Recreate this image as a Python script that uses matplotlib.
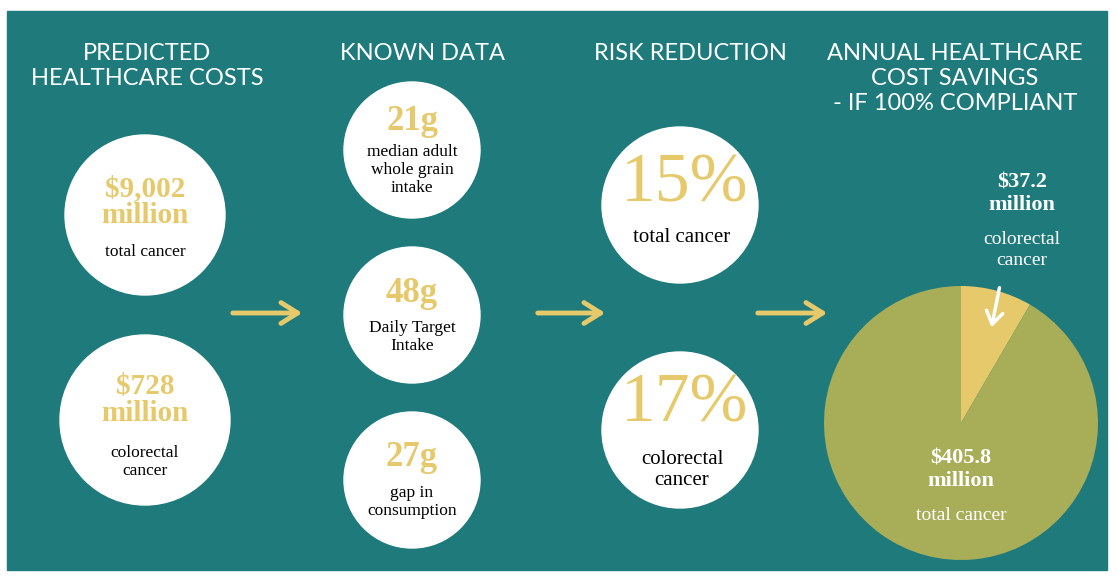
import matplotlib.pyplot as plt
from matplotlib.patches import Circle, Rectangle, FancyArrowPatch

TEAL = "#1F7A7C"
GOLD = "#E6C96B"
OLIVE = "#A8AD58"

headers = ["PREDICTED\nHEALTHCARE COSTS", "KNOWN DATA", "RISK REDUCTION",
           "ANNUAL HEALTHCARE\nCOST SAVINGS\n- IF 100% COMPLIANT"]
cost_values = ["$9,002\nmillion", "$728\nmillion"]
cost_labels = ["total cancer", "colorectal\ncancer"]
known_values = ["21g", "48g", "27g"]
known_labels = ["median adult\nwhole grain\nintake", "Daily Target\nIntake", "gap in\nconsumption"]
risk_values = ["15%", "17%"]
risk_labels = ["total cancer", "colorectal\ncancer"]
savings = [37.2, 405.8]
savings_labels = ["colorectal\ncancer", "total cancer"]

fig = plt.figure(figsize=(11.18, 5.81), dpi=100)
ax = fig.add_axes([0, 0, 1, 1])
ax.set_xlim(0, 1118)
ax.set_ylim(581, 0)
ax.set_aspect("equal")
ax.axis("off")

ax.add_patch(Rectangle((7, 11), 1100, 559, color=TEAL, zorder=0))

head_font = dict(family="Lato", color="white", fontsize=17, ha="center", va="top", linespacing=1.25)
for x, y, h in zip([147, 422, 690, 955], [43, 43, 43, 43], headers):
    ax.text(x, y, h, **head_font)

serif = ["Liberation Serif", "DejaVu Serif"]

def bubble(cx, cy, r, value, label, vsize, lsize, gap):
    ax.add_patch(Circle((cx, cy), r, color="white", zorder=1))
    ax.text(cx, cy - gap, value, family=serif, weight="bold", color=GOLD, fontsize=vsize,
            ha="center", va="center", linespacing=1.0, zorder=2)
    ax.text(cx, cy + gap * 0.9, label, family=serif, color="black", fontsize=lsize,
            ha="center", va="center", linespacing=1.2, zorder=2)

# column 1
bubble(145, 215, 80, cost_values[0], cost_labels[0], 21, 12.5, 10)
ax.texts[-2].set_position((145, 202)); ax.texts[-1].set_position((145, 252))
bubble(145, 420, 85, cost_values[1], cost_labels[1], 21, 12.5, 10)
ax.texts[-2].set_position((145, 400)); ax.texts[-1].set_position((145, 462))

# column 2
ky = [150, 315, 480]
for y, v, l in zip(ky, known_values, known_labels):
    bubble(412, y, 68, v, l, 25, 12.5, 10)
    nlines = l.count("\n") + 1
    ax.texts[-2].set_position((412, y - 28 if nlines == 3 else y - 22))
    ax.texts[-1].set_position((412, y + 20 if nlines == 3 else y + 22))

# column 3
for y, v, l in zip([205, 430], risk_values, risk_labels):
    bubble(680, y, 78, v, l, 50, 15, 10)
    ax.texts[-2].set_position((685, y - 20 if "\n" not in l else y - 25))
    ax.texts[-1].set_position((682, y + 33 if "\n" not in l else y + 40))
    ax.texts[-2].set_fontweight("normal")

# arrows
for x0, x1 in [(230, 305), (535, 608), (755, 830)]:
    ax.add_patch(FancyArrowPatch((x0, 313), (x1, 313), arrowstyle="->,head_length=8,head_width=5",
                                 color=GOLD, lw=3.5, mutation_scale=1.5, zorder=2))

# pie
ax.pie(savings, colors=[GOLD, OLIVE], startangle=-90, counterclock=True,
       center=(961, 423), radius=137, frame=True, wedgeprops=dict(linewidth=0))
ax.set_xlim(0, 1118)
ax.set_ylim(581, 0)
ax.axis("off")

ax.text(1022, 194, f"${savings[0]}\nmillion", family=serif, weight="bold", color="white",
        fontsize=16, ha="center", va="center", linespacing=1.2)
ax.text(1022, 250, savings_labels[0], family=serif, color="white", fontsize=14,
        ha="center", va="center", linespacing=1.25)
ax.text(961, 470, f"${savings[1]}\nmillion", family=serif, weight="bold", color="white",
        fontsize=16, ha="center", va="center", linespacing=1.2)
ax.text(961, 515, savings_labels[1], family=serif, color="white", fontsize=14,
        ha="center", va="center")
ax.add_patch(FancyArrowPatch((1000, 285), (991, 330), arrowstyle="->,head_length=6,head_width=4",
                             color="white", lw=2.5, mutation_scale=1.5, zorder=3))

fig.savefig("out.png", dpi=100)
